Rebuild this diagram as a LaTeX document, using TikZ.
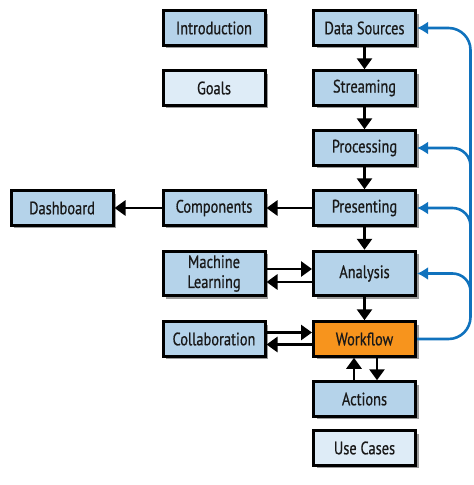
\documentclass[tikz,border=0pt]{standalone}
\usepackage{fontspec}
\setmainfont{PT Sans}[FakeStretch=0.8,FakeBold=0.6]
\usetikzlibrary{shadows,arrows.meta,calc}
\definecolor{boxblue}{RGB}{181,211,234}
\definecolor{boxlight}{RGB}{222,236,247}
\definecolor{wforange}{RGB}{247,148,29}
\definecolor{lineblue}{RGB}{16,114,189}
\begin{document}
\begin{tikzpicture}[x=1pt,y=-1pt,
 box/.style={draw=black, line width=3pt, fill=boxblue, minimum width=102pt, minimum height=34.5pt, inner sep=0pt, font=\fontsize{18}{20}\selectfont, align=center, text=black!90, drop shadow={shadow xshift=3pt, shadow yshift=-3pt, fill=black!60, opacity=0.65}},
 tall/.style={minimum height=44.5pt},
 lightbox/.style={fill=boxlight},
 arr/.style={line width=2.8pt, -{Triangle[length=11pt,width=15pt]}},
 blarr/.style={draw=lineblue, line width=2.6pt, rounded corners=18pt, -{Latex[length=11pt,width=13pt]}}
]
\path[use as bounding box] (0,0) rectangle (474,485);
\node[box] (intro) at (214,28) {Introduction};
\node[box] (ds) at (364.5,28) {Data Sources};
\node[box,lightbox] (goals) at (214,88) {Goals};
\node[box] (stream) at (364.5,88) {Streaming};
\node[box] (proc) at (364.5,148) {Processing};
\node[box] (pres) at (364.5,208) {Presenting};
\node[box] (comp) at (214,208) {Components};
\node[box] (dash) at (62,208) {Dashboard};
\node[box,tall] (ml) at (214,273.5) {Machine\\Learning};
\node[box,tall] (ana) at (364.5,273.5) {Analysis};
\node[box] (collab) at (214,339) {Collaboration};
\node[box,fill=wforange] (wf) at (364.5,339) {Workflow};
\node[box] (act) at (364.5,399) {Actions};
\node[box,lightbox] (uc) at (364.5,448) {Use Cases};
\coordinate (bx) at (470.5,0);
% vertical chain
\draw[arr] (ds) -- (stream);
\draw[arr] (stream) -- (proc);
\draw[arr] (proc) -- (pres);
\draw[arr] (pres) -- (ana);
\draw[arr] (ana) -- (wf);
% horizontal
\draw[arr] (pres) -- (comp);
\draw[arr] (comp) -- (dash);
\draw[arr] ([yshift=4.5pt]ml.east) -- ([yshift=4.5pt]ana.west);
\draw[arr] ([yshift=-8.5pt]ana.west) -- ([yshift=-8.5pt]ml.east);
\draw[arr] ([yshift=6.5pt]collab.east) -- ([yshift=6.5pt]wf.west);
\draw[arr] ([yshift=-5.5pt]wf.west) -- ([yshift=-5.5pt]collab.east);
\draw[arr] ([xshift=-10.5pt]act.north) -- ([xshift=-10.5pt]wf.south);
\draw[arr] ([xshift=12.5pt]wf.south) -- ([xshift=12.5pt]act.north);
% blue feedback
\draw[blarr, rounded corners=22pt] (wf.east) -- (wf.east -| bx) -- (ds.east -| bx) -- (ds.east);
\foreach \n in {proc,pres,ana}{
  \draw[blarr] ($(bx |- \n.east)+(0,24)$) -- (bx |- \n.east) -- (\n.east);
}
\end{tikzpicture}
\end{document}
